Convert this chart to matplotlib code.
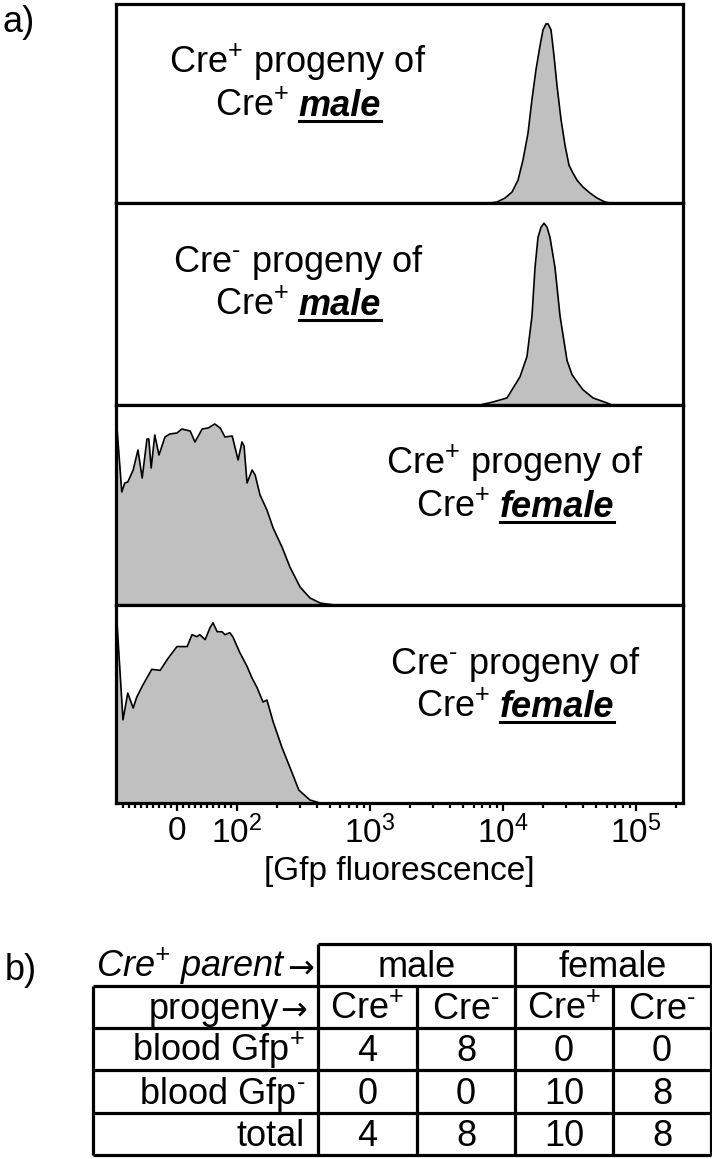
import matplotlib
matplotlib.use("Agg")
import matplotlib.pyplot as plt
from matplotlib.lines import Line2D
from matplotlib import font_manager, ft2font

plt.rcParams['font.family'] = ['Liberation Sans', 'DejaVu Sans']
plt.rcParams['mathtext.fontset'] = 'custom'
plt.rcParams['mathtext.default'] = 'regular'

# short hyphen for the superscript minus, if the font has one
_cmap = ft2font.FT2Font(font_manager.findfont('Liberation Sans')).get_charmap()
SUP_MINUS = '$^{\u2010}$' if 0x2010 in _cmap else '$^{-}$'
SUP_PLUS = '$^{+}$'

# ---- data: Gfp fluorescence vs relative count (% of panel)
male_plus_x = [7980, 9020, 10350, 11690, 12970, 14130, 15410, 16510, 17700, 18970, 19990,
               21060, 21800, 22960, 24170, 25460, 27290, 29250, 31350, 33600, 35980, 39960,
               45100, 50890, 58480, 63830]
male_plus_y = [0, 0.5, 2.5, 5.5, 11.5, 21.6, 35, 52, 67, 79, 87, 90, 90, 87, 74, 59, 42, 29,
               19, 15, 11.5, 8, 5, 2.5, 0.5, 0]

male_minus_x = [6714, 8414, 10720, 13430, 15140, 16510, 17400, 18330, 19320, 20330, 21430,
                22550, 24600, 26840, 30300, 33040, 35980, 39960, 47500, 60530, 66060]
male_minus_y = [0, 1.5, 3.5, 14, 24, 44, 68, 83, 88, 90, 88, 83, 68, 44, 22, 15, 11.5, 7.5,
                3.5, 1, 0]

female_plus_x = [-101, -92, -87, -82, -73, -65, -58, -50, -47, -43, -37, -30, -20, -12, 0, 8,
                 22, 30, 42, 52, 63, 72, 80, 92, 102, 109, 113, 119, 130, 137, 149, 168, 187,
                 218, 250, 298, 354, 421, 475, 546]
female_plus_y = [92.5, 56.5, 61, 61.5, 67.5, 77.5, 63.5, 83, 83, 68.5, 85, 75, 84, 85.5, 86,
                 88, 87, 81.5, 88, 88.5, 90.5, 88.5, 84, 84.5, 72.5, 81.5, 79.5, 61, 67.5, 65,
                 55, 47.5, 38.5, 29, 19, 9, 3.5, 1, 0.5, 0]

female_minus_x = [-101, -90, -82, -73, -67, -57, -42, -28, -15, 0, 17, 25, 33, 38, 47, 55, 60,
                  67, 75, 80, 88, 93, 105, 119, 130, 141, 157, 168, 187, 218, 250, 292, 354, 421]
female_minus_y = [96, 42, 55.5, 48, 53.5, 59.5, 67.5, 67, 73, 79, 79, 85, 84, 85, 82.5, 88.5,
                  91, 86.5, 86.5, 85, 86, 84, 76, 69, 63, 58.5, 51, 52, 41, 28, 18, 6.5, 1.5, 0]

panel_first = ['Cre' + SUP_PLUS + ' progeny of', 'Cre' + SUP_MINUS + ' progeny of',
               'Cre' + SUP_PLUS + ' progeny of', 'Cre' + SUP_MINUS + ' progeny of']
panel_parent = ['male', 'male', 'female', 'female']

major_ticks = [0, 1e2, 1e3, 1e4, 1e5]
major_labels = ['0', '$10^{2}$', '$10^{3}$', '$10^{4}$', '$10^{5}$']
x_label = '[Gfp fluorescence]'

# ---- table data
parent_header = 'Cre' + SUP_PLUS + ' parent'
parents = ['male', 'female']
progeny_header = 'progeny'
progeny = ['Cre' + SUP_PLUS, 'Cre' + SUP_MINUS, 'Cre' + SUP_PLUS, 'Cre' + SUP_MINUS]
row_labels = ['blood Gfp' + SUP_PLUS, 'blood Gfp' + SUP_MINUS, 'total']
gfp_pos = [4, 8, 0, 0]
gfp_neg = [0, 0, 10, 8]
totals = [4, 8, 10, 8]

W, H = 712, 1159
FS = 26
fig = plt.figure(figsize=(W / 100, H / 100), dpi=100)
renderer = fig.canvas.get_renderer()

def fx(px):
    return px / W

def fy(py):
    return 1 - py / H

# panel geometry in pixels
left, right = 116, 683
edges = [4, 203, 405, 605, 803]
xmin, xmax = -101.7, 225500

series = [(male_plus_x, male_plus_y), (male_minus_x, male_minus_y),
          (female_plus_x, female_plus_y), (female_minus_x, female_minus_y)]
text_cx = [298, 298, 515, 515]

axes = []
for i, (xs, ys) in enumerate(series):
    top, bot = edges[i], edges[i + 1]
    ax = fig.add_axes([fx(left), fy(bot), fx(right - left), (bot - top) / H])
    ax.set_xscale('symlog', linthresh=100, linscale=0.406)
    ax.fill_between(xs, ys, 0, color='#c0c0c0', lw=0)
    ax.plot(xs, ys, color='black', lw=1.2)
    ax.set_xlim(xmin, xmax)
    ax.set_ylim(0, 100)
    ax.set_yticks([])
    for s in ax.spines.values():
        s.set_linewidth(2.3)
    if i < 3:
        ax.set_xticks([])
        ax.set_xticks([], minor=True)
    axes.append(ax)

    # annotation text
    cx = text_cx[i]
    y1 = top + 69
    y2 = top + 112
    fig.text(fx(cx), fy(y1), panel_first[i], ha='center', va='baseline', fontsize=FS)
    t1 = fig.text(0, fy(y2), 'Cre' + SUP_PLUS, va='baseline', fontsize=FS)
    t2 = fig.text(0, fy(y2), panel_parent[i], va='baseline', fontsize=FS,
                  fontweight='bold', fontstyle='italic')
    w1 = t1.get_window_extent(renderer).width
    w2 = t2.get_window_extent(renderer).width
    gap = 0.27 * FS * 100 / 72
    x0 = cx - (w1 + gap + w2) / 2
    t1.set_x(fx(x0))
    t2.set_x(fx(x0 + w1 + gap))
    fig.add_artist(Line2D([fx(x0 + w1 + gap), fx(x0 + w1 + gap + w2)],
                          [fy(y2 + 5), fy(y2 + 5)], color='black', lw=2.2))

axb = axes[-1]
minor = ([-v for v in range(10, 100, 10)] + list(range(10, 100, 10)) +
         [m * 10 ** e for e in (2, 3, 4) for m in range(2, 10)] + [2e5])
axb.set_xticks(major_ticks)
axb.set_xticklabels(major_labels)
axb.set_xticks(minor, minor=True)
axb.tick_params(axis='x', which='major', direction='out', length=6, width=1.6,
                labelsize=24, pad=3)
axb.tick_params(axis='x', which='minor', direction='out', length=3.5, width=1.6)
axb.set_xlabel(x_label, fontsize=24, labelpad=4)

fig.text(fx(3), fy(32), 'a)', fontsize=FS, va='baseline')
fig.text(fx(5), fy(980), 'b)', fontsize=FS, va='baseline')

# ---- table
axt = fig.add_axes([0, 0, 1, 1])
axt.set_xlim(0, W)
axt.set_ylim(H, 0)
axt.axis('off')
col = [93, 318, 417, 515, 613, 711]
row = [944, 986, 1028, 1070, 1113, 1155]
lw_t = 2.3
axt.hlines(row[0], col[1], col[5], color='black', lw=lw_t)
axt.hlines(row[1:], col[0], col[5], color='black', lw=lw_t)
axt.vlines([col[1], col[3], col[5]], row[0], row[5], color='black', lw=lw_t)
axt.vlines([col[0], col[2], col[4]], row[1], row[5], color='black', lw=lw_t)

TFS = 26
def cell_y(r):
    return row[r + 1] - 9

def header_with_arrow(xr, r, label, **kw):
    arr = axt.text(xr, cell_y(r), '\u2192', ha='right', va='baseline', fontsize=23,
                   family='DejaVu Sans')
    wa = arr.get_window_extent(renderer).width
    axt.text(xr - wa - 1, cell_y(r), label, ha='right', va='baseline', fontsize=TFS, **kw)

header_with_arrow(314, 0, parent_header, fontstyle='italic')
for k, p in enumerate(parents):
    axt.text((col[1 + 2 * k] + col[3 + 2 * k]) / 2, cell_y(0), p, ha='center',
             va='baseline', fontsize=TFS)
header_with_arrow(307, 1, progeny_header)
for k, p in enumerate(progeny):
    axt.text((col[1 + k] + col[2 + k]) / 2, cell_y(1), p, ha='center', va='baseline',
             fontsize=TFS)
for r, (lab, vals) in enumerate(zip(row_labels, [gfp_pos, gfp_neg, totals])):
    axt.text(305, cell_y(2 + r), lab, ha='right', va='baseline', fontsize=TFS)
    for k, v in enumerate(vals):
        axt.text((col[1 + k] + col[2 + k]) / 2, cell_y(2 + r), str(v), ha='center',
                 va='baseline', fontsize=TFS)

fig.savefig('out.png', dpi=100)
